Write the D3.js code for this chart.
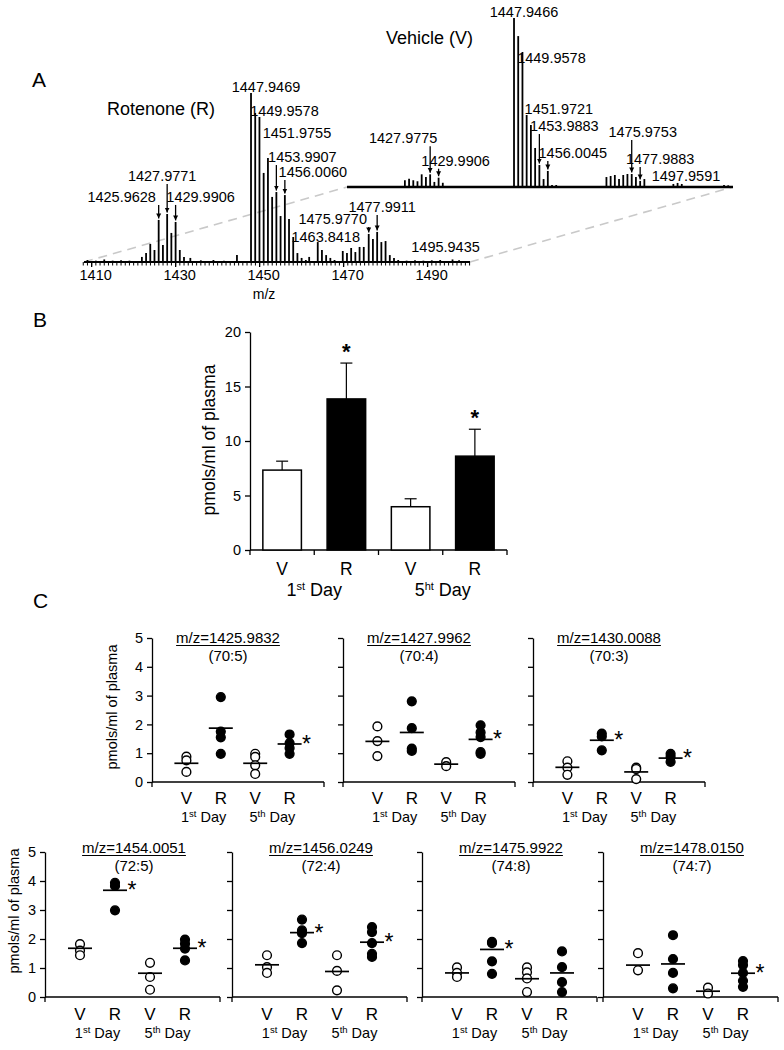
<!DOCTYPE html>
<html><head><meta charset="utf-8">
<script src="https://cdn.jsdelivr.net/npm/d3@7"></script>
<style>
body{margin:0;background:#fff}
svg{display:block}
text{font-family:"Liberation Sans",Arial,sans-serif;fill:#000}
</style>
</head><body>
<svg id="c" width="784" height="1050"></svg>
<script>
// ================= DATA =================
// Panel A: mass spectra (m/z, relative intensity %)
const rotMz = [1409,1411,1413,1415,1417,1419,1421.96,1422.96,1423.96,1424.96,1425.96,1426.97,1427.98,1428.98,1429.99,1430.99,1431.99,1433.5,1436,1439,1441.5,1444.6,1447.95,1448.95,1449.96,1450.96,1451.98,1452.98,1453.99,1454.99,1456.01,1457,1458,1459,1460,1461,1461.8,1463.84,1464.84,1465.84,1466.84,1467.84,1469.8,1470.8,1471.8,1472.8,1473.8,1474.8,1475.98,1476.98,1477.99,1478.99,1479.99,1481,1482,1483,1485,1487,1489,1491,1493,1495.94,1497.5];
const rotInt = [1.2,0.8,1.5,0.8,1.0,0.8,3,5.3,10.7,7.1,24.9,10,28.4,17.2,23.7,7.1,3,2.4,1,1.2,0.8,4.1,100,88.2,85.8,52.7,61.5,38.5,41.4,27.2,39.6,25.4,14.8,5.3,2.4,1.2,3,11.8,7.1,4.1,2.4,1.2,6.5,5.3,8.3,5.9,8.9,8.9,16.6,13.6,17.8,11.8,12.4,4.1,2.4,1.2,0.8,1,0.8,1,1.2,1.5,1];
const vehMz = [1412,1416,1421.96,1422.96,1423.96,1424.96,1425.96,1426.97,1427.98,1428.98,1429.99,1430.99,1437,1447.95,1448.95,1449.96,1450.96,1451.97,1452.98,1453.99,1454.99,1456.00,1457,1458,1469.96,1470.96,1471.96,1472.96,1473.96,1474.96,1475.98,1476.98,1477.99,1478.99,1485.9,1486.9,1487.9,1497.96,1498.96];
const vehInt = [0.6,0.6,4.0,4.9,4.0,3.4,7.5,5.9,7.5,3.0,5.5,2.5,0.6,100,89.3,79.9,42.6,36.7,23.1,13.0,4.7,9.5,1.2,1.2,5.9,6.5,7.1,4.7,7.1,7.7,7.7,5.9,3.6,4.7,1.8,2.4,1.8,1.2,1.0];
const rotLabels = ["1447.9469","1449.9578","1451.9755","1453.9907","1456.0060","1425.9628","1427.9771","1429.9906","1463.8418","1475.9770","1477.9911","1495.9435"];
const rotArrows = [false,false,false,true,true,true,true,true,false,true,true,false];
const vehLabels = ["1447.9466","1449.9578","1451.9721","1453.9883","1456.0045","1427.9775","1429.9906","1475.9753","1477.9883","1497.9591"];
const vehArrows = [false,false,false,true,true,true,true,true,true,false];
const mzTicks = [1410,1430,1450,1470,1490];

// Panel B: bar chart
const barGroups = ["V1","R1","V5","R5"];
const barCatLabels = ["V","R","V","R"];
const barValues = [7.33,13.86,3.97,8.61];
const barErrTop = [8.15,17.15,4.70,11.08];
const barSig = [false,true,false,true];
const barTicks = [0,5,10,15,20];

// Panel C: dot plots
const cTitles = ["m/z=1425.9832","m/z=1427.9962","m/z=1430.0088","m/z=1454.0051","m/z=1456.0249","m/z=1475.9922","m/z=1478.0150"];
const cSubtitles = ["(70:5)","(70:4)","(70:3)","(72:5)","(72:4)","(74:8)","(74:7)"];
const cV1 = [[0.88,0.75,0.35],[1.93,1.42,0.90],[0.72,0.50,0.25],[1.82,1.60,1.44],[1.44,1.03,0.83],[1.02,0.83,0.69],[1.51,0.92]];
const cR1 = [[2.95,1.75,1.55,0.98],[2.80,1.87,1.16,1.08],[1.68,1.58,1.10],[3.94,3.83,2.99],[2.67,2.30,2.20,1.86],[1.90,1.86,1.23,0.80],[2.13,1.31,0.83,0.30]];
const cV5 = [[0.98,0.87,0.58,0.28],[0.69,0.55],[0.50,0.45,0.10],[1.18,0.69,0.25],[1.44,0.90,0.23],[1.02,0.85,0.64,0.17],[0.32,0.12]];
const cR5 = [[1.65,1.35,1.18,0.98],[1.97,1.72,1.56,1.04,0.98],[0.98,0.87,0.70],[1.98,1.84,1.67,1.26],[2.41,2.24,1.86,1.49,1.38],[1.57,1.03,0.51,0.17],[1.24,1.10,0.83,0.56,0.35]];
const cMeans = [[0.65,1.87,0.65,1.32],[1.41,1.72,0.62,1.48],[0.51,1.45,0.35,0.83],[1.68,3.68,0.82,1.68],[1.11,2.22,0.88,1.89],[0.83,1.64,0.63,0.83],[1.10,1.14,0.20,0.82]];
const cSig = [[0,0,0,1],[0,0,0,1],[0,1,0,1],[0,1,0,1],[0,1,0,1],[0,1,0,0],[0,0,0,1]];
const cGroups = ["V1","R1","V5","R5"];
const cCatLabels = ["V","R","V","R"];
const cTicks = [0,1,2,3,4,5];

// ================= LAYOUT =================
const svg = d3.select("#c");
svg.append("rect").attr("width",784).attr("height",1050).attr("fill","#fff");
const defs = svg.append("defs");
defs.append("marker").attr("id","ah").attr("viewBox","0 0 10 10").attr("refX",10).attr("refY",5)
  .attr("markerUnits","userSpaceOnUse").attr("markerWidth",5).attr("markerHeight",6).attr("orient","auto")
  .append("path").attr("d","M0,0L10,5L0,10z").attr("fill","#000");

function text(g,x,y,s,size,anchor,weight){
  return g.append("text").attr("x",x).attr("y",y).attr("font-size",size)
    .attr("text-anchor",anchor||"start").attr("font-weight",weight||"normal").text(s);
}

// ---------- Panel A ----------
text(svg,32,87,"A",21);
text(svg,107,115,"Rotenone (R)",18);
text(svg,386,44,"Vehicle (V)",18);

// connecting dashed lines
const dashG = svg.append("g").attr("stroke","#c9c9c9").attr("stroke-width",1.6).attr("stroke-dasharray","9,6");
dashG.append("line").attr("x1",84).attr("y1",262).attr("x2",347).attr("y2",187);
dashG.append("line").attr("x1",470).attr("y1",262).attr("x2",733).attr("y2",187);

const mzDomain = [1407.7,1500.1];
const specW = 388, specH = 169;
// label offsets (dx from peak, gap above peak top) – layout only
const rotLabelPos = [[15,1],[25,1],[29,20],[26,30],[28,18],[-37,18],[-5,33],[25,20],[8,0],[-36,10],[5,20],[-7,7.5]];
const vehLabelPos = [[10,1],[29,-11],[28,11],[25,34],[25,13],[-27,31],[17,12],[11,37],[20,17],[-38,4]];

function spectrum(x0,base,mz,inten,labels,arrows,pos,axisStroke){
  const x = d3.scaleLinear().domain(mzDomain).range([x0,x0+specW]);
  const y = d3.scaleLinear().domain([0,100]).range([base,base-specH]);
  const g = svg.append("g");
  g.selectAll("line.pk").data(d3.zip(mz,inten)).join("line").attr("class","pk")
    .attr("x1",d=>x(d[0])).attr("x2",d=>x(d[0])).attr("y1",base).attr("y2",d=>y(d[1]))
    .attr("stroke","#000").attr("stroke-width",1.8);
  g.append("line").attr("x1",x0+2).attr("x2",x0+specW).attr("y1",base).attr("y2",base)
    .attr("stroke","#000").attr("stroke-width",axisStroke);
  labels.forEach((lab,i)=>{
    const m = +lab;
    let idx = d3.minIndex(mz,v=>Math.abs(v-m));
    const px = x(mz[idx]), top = y(inten[idx]);
    const bl = top - pos[i][1];
    text(g,px+pos[i][0],bl,lab,14.5,"middle");
    if(arrows[i]){
      g.append("line").attr("x1",px).attr("x2",px).attr("y1",bl+3).attr("y2",top-1.5)
        .attr("stroke","#000").attr("stroke-width",1.3).attr("marker-end","url(#ah)");
    }
  });
  return {x,g};
}
const rot = spectrum(82,262,rotMz,rotInt,rotLabels,rotArrows,rotLabelPos,2);
spectrum(345,187,vehMz,vehInt,vehLabels,vehArrows,vehLabelPos,2.6);
// rotenone m/z axis ticks
const ax = rot.g.append("g");
ax.selectAll("line.mn").data(d3.range(1408,1501)).join("line").attr("class","mn")
  .attr("x1",d=>rot.x(d)).attr("x2",d=>rot.x(d)).attr("y1",262).attr("y2",265.5)
  .attr("stroke","#000").attr("stroke-width",1);
ax.selectAll("line.mj").data(mzTicks).join("line").attr("class","mj")
  .attr("x1",d=>rot.x(d)).attr("x2",d=>rot.x(d)).attr("y1",262).attr("y2",267)
  .attr("stroke","#000").attr("stroke-width",1.3);
ax.selectAll("text.tl").data(mzTicks).join("text").attr("class","tl")
  .attr("x",d=>rot.x(d)+4).attr("y",280).attr("text-anchor","middle").attr("font-size",14.5).text(d=>d);
text(svg,264,299,"m/z",14,"middle");

// ---------- Panel B ----------
text(svg,33,327,"B",21);
const xB = d3.scaleBand().domain(barGroups).range([250,507]).paddingInner(0.4).paddingOuter(0.2);
const yB = d3.scaleLinear().domain([0,20]).range([550,332]);
const gB = svg.append("g");
const yAxB = gB.append("g").attr("transform","translate(250,0)")
  .call(d3.axisLeft(yB).tickValues(barTicks).tickSize(5).tickSizeOuter(0).tickPadding(4));
yAxB.selectAll("text").attr("font-size",14.5).attr("font-family",null);
yAxB.selectAll("line,path").attr("stroke","#000").attr("stroke-width",1.3);
gB.append("line").attr("x1",250).attr("x2",507).attr("y1",550).attr("y2",550).attr("stroke","#000").attr("stroke-width",1.3);
const bTickX = barGroups.map(d=>xB(d)-xB.step()*xB.paddingInner()/2).concat([507]);
bTickX[0]=250;
gB.selectAll("line.bt").data(bTickX).join("line").attr("class","bt")
  .attr("x1",d=>d).attr("x2",d=>d).attr("y1",550).attr("y2",555).attr("stroke","#000").attr("stroke-width",1.3);
gB.selectAll("line.err").data(barGroups).join("line").attr("class","err")
  .attr("x1",d=>xB(d)+xB.bandwidth()/2).attr("x2",d=>xB(d)+xB.bandwidth()/2)
  .attr("y1",(d,i)=>yB(barValues[i])).attr("y2",(d,i)=>yB(barErrTop[i])).attr("stroke","#000").attr("stroke-width",1.2);
gB.selectAll("line.cap").data(barGroups).join("line").attr("class","cap")
  .attr("x1",d=>xB(d)+xB.bandwidth()/2-6).attr("x2",d=>xB(d)+xB.bandwidth()/2+6)
  .attr("y1",(d,i)=>yB(barErrTop[i])).attr("y2",(d,i)=>yB(barErrTop[i])).attr("stroke","#000").attr("stroke-width",1.2);
gB.selectAll("rect.bar").data(barGroups).join("rect").attr("class","bar")
  .attr("x",d=>xB(d)).attr("width",xB.bandwidth())
  .attr("y",(d,i)=>yB(barValues[i])).attr("height",(d,i)=>550-yB(barValues[i]))
  .attr("fill",(d,i)=>i%2?"#000":"#fff").attr("stroke","#000").attr("stroke-width",1.5);
barGroups.forEach((d,i)=>{
  if(barSig[i]) text(gB,xB(d)+xB.bandwidth()/2,yB(barErrTop[i])-4,"*",22,"middle","bold");
  text(gB,xB(d)+xB.bandwidth()/2,575,barCatLabels[i],17.5,"middle");
});
function dayLabel(g,x,y,num,sup,size,supSize){
  const t = g.append("text").attr("x",x).attr("y",y).attr("font-size",size).attr("text-anchor","middle");
  t.append("tspan").text(num);
  t.append("tspan").attr("font-size",supSize).attr("dy",-size*0.36).text(sup);
  t.append("tspan").attr("dy",size*0.36).text(" Day");
}
const bc = d=>xB(d)+xB.bandwidth()/2;
dayLabel(gB,(bc("V1")+bc("R1"))/2,596,"1","st",18,11);
dayLabel(gB,(bc("V5")+bc("R5"))/2,596,"5","ht",18,11);
gB.append("text").attr("transform","translate(215,440) rotate(-90)").attr("text-anchor","middle")
  .attr("font-size",17.5).text("pmols/ml of plasma");

// ---------- Panel C ----------
text(svg,33,608,"C",21);
const rows = [
  {axes:[152,343,533], w:172, y0:782, y5:638, tdx:76, t1:643, t2:661, vr:804, day:822, ylx:117, yly:707},
  {axes:[45,232,422,603], w:175, y0:997, y5:852, tdx:89, t1:853, t2:871, vr:1020, day:1038, ylx:19, yly:911}
];
let pIdx = 0;
rows.forEach(row=>{
  row.axes.forEach((axX,k)=>{
    const i = pIdx++;
    const g = svg.append("g").attr("transform",`translate(${axX},0)`);
    const x = d3.scalePoint().domain(cGroups).range([0,row.w]).padding(1);
    const y = d3.scaleLinear().domain([0,5]).range([row.y0,row.y5]);
    const ya = g.append("g").call(d3.axisLeft(y).tickValues(cTicks).tickSize(5).tickSizeOuter(0).tickPadding(4)
      .tickFormat(k===0?d3.format("d"):()=>""));
    ya.selectAll("text").attr("font-size",14.5).attr("font-family",null);
    ya.selectAll("line,path").attr("stroke","#000").attr("stroke-width",1.3);
    g.append("line").attr("x1",0).attr("x2",row.w).attr("y1",row.y0).attr("y2",row.y0).attr("stroke","#000").attr("stroke-width",1.3);
    [0,row.w].forEach(t=>g.append("line").attr("x1",t).attr("x2",t).attr("y1",row.y0).attr("y2",row.y0+5).attr("stroke","#000").attr("stroke-width",1.3));
    // title
    const tt = text(g,row.tdx,row.t1,cTitles[i],15,"middle");
    const tw = tt.node().getComputedTextLength();
    g.append("line").attr("x1",row.tdx-tw/2).attr("x2",row.tdx+tw/2).attr("y1",row.t1+2.5).attr("y2",row.t1+2.5)
      .attr("stroke","#000").attr("stroke-width",1);
    text(g,row.tdx,row.t2,cSubtitles[i],15,"middle");
    const pts = [cV1[i],cR1[i],cV5[i],cR5[i]];
    cGroups.forEach((grp,j)=>{
      const filled = j%2===1;
      g.selectAll(null).data(pts[j]).join("circle")
        .attr("cx",x(grp)).attr("cy",d=>y(d)).attr("r",4.4)
        .attr("fill",filled?"#000":"#fff").attr("stroke","#000").attr("stroke-width",1.4);
      const m = cMeans[i][j];
      g.append("line").attr("x1",x(grp)-12).attr("x2",x(grp)+12).attr("y1",y(m)).attr("y2",y(m))
        .attr("stroke","#000").attr("stroke-width",1.7);
      if(cSig[i][j]) text(g,x(grp)+17,y(m)+8,"*",23,"middle").attr("fill","#222");
      text(g,x(grp),row.vr,cCatLabels[j],17,"middle");
    });
    dayLabel(g,(x("V1")+x("R1"))/2,row.day,"1","st",14.5,9.5);
    dayLabel(g,(x("V5")+x("R5"))/2,row.day,"5","th",14.5,9.5);
  });
  svg.append("text").attr("transform",`translate(${row.ylx},${row.yly}) rotate(-90)`).attr("text-anchor","middle")
    .attr("font-size",14.5).text("pmols/ml of plasma");
});
</script>
</body></html>
